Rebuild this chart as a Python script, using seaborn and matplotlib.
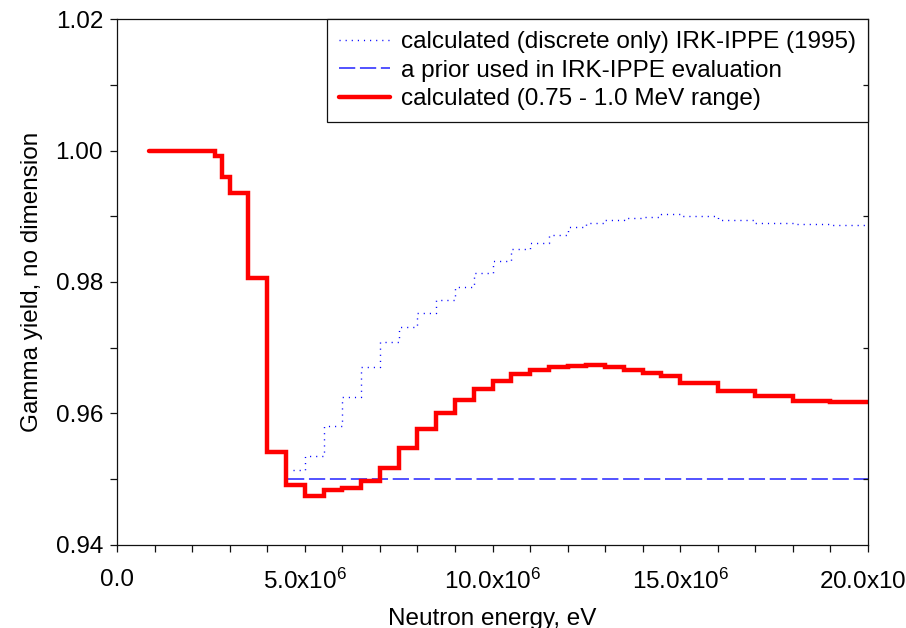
import numpy as np
import pandas as pd
import matplotlib
matplotlib.use('Agg')
import matplotlib.pyplot as plt
import seaborn as sns
from matplotlib.ticker import MultipleLocator, FixedLocator, FuncFormatter

# -----------------------------
# data (energies in MeV, step bins)
# -----------------------------
red_edges = [0.85, 2.6, 2.8, 3.0, 3.5, 4.0, 4.5, 5.0, 5.5, 6.0, 6.5, 7.0, 7.5, 8.0,
             8.5, 9.0, 9.5, 10.0, 10.5, 11.0, 11.5, 12.0, 12.5, 13.0, 13.5, 14.0,
             14.5, 15.0, 16.0, 17.0, 18.0, 19.0, 20.0]
red_yield = [1.0000, 0.9992, 0.9959, 0.9935, 0.9806, 0.9541, 0.9491, 0.9475, 0.9484,
             0.9487, 0.9498, 0.9517, 0.9548, 0.9577, 0.9601, 0.9621, 0.9637, 0.9650,
             0.9660, 0.9666, 0.9671, 0.9673, 0.9674, 0.9671, 0.9666, 0.9662, 0.9657,
             0.9647, 0.9634, 0.9626, 0.9619, 0.9617]

dot_edges = [4.7, 5.0, 5.5, 6.0, 6.5, 7.0, 7.5, 8.0, 8.5, 9.0, 9.5, 10.0, 10.5, 11.0,
             11.5, 12.0, 12.5, 13.0, 13.5, 14.0, 14.5, 15.0, 16.0, 17.0, 18.0, 19.0, 20.0]
dot_yield = [0.9514, 0.9536, 0.9581, 0.9625, 0.9671, 0.9708, 0.9732, 0.9753, 0.9773,
             0.9793, 0.9813, 0.9832, 0.9850, 0.9859, 0.9871, 0.9883, 0.9890, 0.9895,
             0.9897, 0.9899, 0.9903, 0.9900, 0.9894, 0.9889, 0.9888, 0.9886]

prior_edges = [4.55, 20.0]
prior_yield = [0.95]

labels = ['calculated (discrete only) IRK-IPPE (1995)',
          'a prior used in IRK-IPPE evaluation',
          'calculated (0.75 - 1.0 MeV range)']

xtick_vals = [0, 5, 10, 15, 20]


def step_df(edges, vals):
    # steps-post needs the last value repeated at the last edge
    return pd.DataFrame({'E': np.array(edges) * 1e6, 'Y': list(vals) + [vals[-1]]})


sns.set_style('ticks')
plt.rcParams['font.family'] = ['Liberation Sans', 'DejaVu Sans']
plt.rcParams['font.size'] = 17.5
plt.rcParams['text.color'] = 'black'
plt.rcParams['axes.labelcolor'] = 'black'
plt.rcParams['xtick.color'] = 'black'
plt.rcParams['ytick.color'] = 'black'
plt.rcParams['mathtext.fontset'] = 'custom'
plt.rcParams['mathtext.rm'] = 'Liberation Sans'
plt.rcParams['mathtext.it'] = 'Liberation Sans:italic'
plt.rcParams['mathtext.bf'] = 'Liberation Sans:bold'

fig, ax = plt.subplots(figsize=(9.06, 6.28), dpi=100)
fig.subplots_adjust(left=117 / 906, right=868 / 906, bottom=1 - 545 / 628, top=1 - 19 / 628)

sns.lineplot(data=step_df(dot_edges, dot_yield), x='E', y='Y', ax=ax,
             drawstyle='steps-post', color='#0000ff', lw=1.0,
             linestyle=(0, (0.8, 3.6)), label=labels[0], estimator=None, sort=False)
sns.lineplot(data=step_df(prior_edges, prior_yield), x='E', y='Y', ax=ax,
             drawstyle='steps-post', color='#4444ff', lw=1.3,
             linestyle=(0, (9, 2.6)), label=labels[1], estimator=None, sort=False)
sns.lineplot(data=step_df(red_edges, red_yield), x='E', y='Y', ax=ax,
             drawstyle='steps-post', color='#ff0000', lw=3.2,
             solid_capstyle='round', solid_joinstyle='miter',
             label=labels[2], estimator=None, sort=False)

ax.set_xlim(0, 20e6)
ax.set_ylim(0.94, 1.02)

ax.xaxis.set_major_locator(FixedLocator([v * 1e6 for v in xtick_vals]))
ax.xaxis.set_minor_locator(MultipleLocator(1e6))
ax.xaxis.set_major_formatter(FuncFormatter(
    lambda v, p: '0.0' if v == 0 else '%.1fx10$^{6}$' % (v / 1e6)))
ax.yaxis.set_major_locator(MultipleLocator(0.02))
ax.yaxis.set_minor_locator(MultipleLocator(0.01))
ax.yaxis.set_major_formatter(FuncFormatter(lambda v, p: '%.2f' % v))

ax.tick_params(which='both', direction='out', length=5, width=0.9, color='#111111')
ax.tick_params(axis='x', which='major', pad=12)
ax.tick_params(axis='y', which='major', pad=5)
for s in ax.spines.values():
    s.set_visible(True)
    s.set_linewidth(0.9)
    s.set_color('#111111')

# inward marks on the right spine
ax2 = ax.twinx()
ax2.set_ylim(0.94, 1.02)
ax2.yaxis.set_major_locator(FixedLocator([0.95, 0.97, 0.99, 1.01]))
ax2.tick_params(axis='y', direction='in', length=3.5, width=0.9, color='#111111',
                labelright=False)
for s in ax2.spines.values():
    s.set_visible(False)

ax.set_xlabel('Neutron energy, eV', labelpad=10)
ax.set_ylabel('Gamma yield, no dimension', labelpad=9)

leg = ax.legend(loc='upper right', borderaxespad=0, fancybox=False, edgecolor='#111111',
                framealpha=1, labelspacing=0.27, handlelength=2.1, handletextpad=0.45,
                borderpad=0.5, fontsize=17.5)
leg.get_frame().set_linewidth(0.9)

fig.savefig('out.png', dpi=100)
